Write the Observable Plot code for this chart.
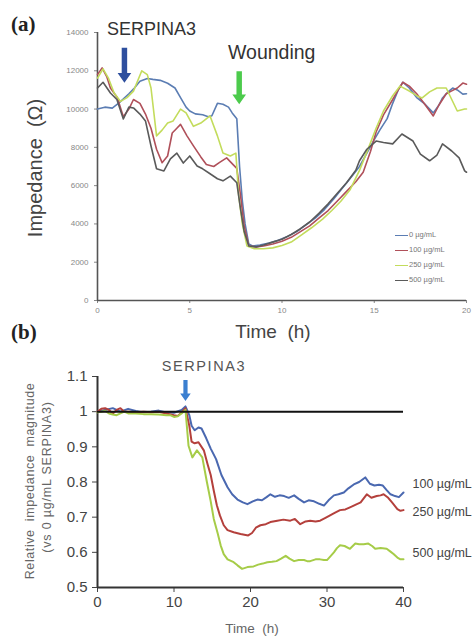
<!DOCTYPE html>
<html>
<head>
<meta charset="utf-8">
<script src="https://cdn.jsdelivr.net/npm/d3@7"></script>
<script src="https://cdn.jsdelivr.net/npm/@observablehq/plot@0.6"></script>
<style>
  html, body { margin: 0; padding: 0; background: #fff; }
  #wrap { position: relative; width: 476px; height: 636px; overflow: hidden; background: #fff; font-family: "Liberation Sans", Arial, sans-serif; }
  #wrap svg { position: absolute; left: 0; }
  .lbl { position: absolute; white-space: nowrap; line-height: 1; }
  .panel { font-family: "Liberation Serif", "DejaVu Serif", serif; font-weight: bold; font-size: 21px; color: #222; }
  .rot { transform: translate(-50%, -50%) rotate(-90deg); }
  .leg { position: absolute; font-size: 7.5px; color: #777; line-height: 1; }
  .leg span.sw { display: inline-block; width: 13px; height: 0; border-top: 1.5px solid; vertical-align: middle; margin-right: 1px; }
</style>
</head>
<body>
<div id="wrap"></div>
<script>
// ---------- Panel (a) data: impedance (Ω) vs time (h) ----------
const seriesNamesA = ["0 µg/mL", "100 µg/mL", "250 µg/mL", "500 µg/mL"];
const colorsA = ["#5b7db3", "#b0505a", "#c3dc5c", "#5a5a5a"];
const imp0 = [[0,10000],[0.4,10100],[0.8,10050],[1.2,10350],[1.7,10800],[2.0,11100],[2.3,11450],[2.7,11600],[3.0,11550],[3.4,11500],[3.8,11350],[4.2,11100],[4.5,10600],[4.8,10100],[5.0,9900],[5.3,9750],[5.7,9700],[6.0,9600],[6.2,9650],[6.5,10300],[6.8,10250],[7.1,10100],[7.3,9800],[7.55,9500],[7.7,7000],[7.85,5200],[8.0,4000],[8.2,2950],[8.4,2850],[8.8,2900],[9.3,3000],[9.8,3150],[10.3,3350],[10.8,3600],[11.3,3950],[11.8,4300],[12.3,4750],[12.8,5300],[13.3,5900],[13.8,6500],[14.2,7000],[14.6,7700],[15.0,8400],[15.3,8900],[15.7,9500],[16.0,10300],[16.3,11000],[16.55,11400],[16.9,11100],[17.3,10600],[17.7,10300],[18.2,9800],[18.5,10200],[18.7,10580],[19.0,10900],[19.25,11100],[19.5,11000],[19.8,10780],[20,10800]];
const imp100 = [[0,11800],[0.25,12150],[0.5,11700],[0.7,11100],[1.07,10600],[1.4,9600],[1.7,10000],[1.95,10500],[2.3,10300],[2.6,9740],[2.9,9000],[3.2,7900],[3.5,7200],[3.8,7550],[4.05,8750],[4.3,9000],[4.5,9200],[4.85,8600],[5.2,8080],[5.6,7500],[5.9,7100],[6.3,7000],[6.6,7200],[7.0,7450],[7.35,7100],[7.55,6900],[7.75,5500],[7.95,3900],[8.2,2850],[8.6,2800],[9.0,2850],[9.5,2950],[10.0,3100],[10.5,3300],[11.0,3600],[11.5,3900],[12.0,4300],[12.5,4700],[13.0,5200],[13.5,5700],[14.0,6200],[14.4,6700],[14.8,7800],[15.1,8800],[15.5,9700],[16.0,10500],[16.3,11000],[16.55,11400],[16.9,11200],[17.3,10800],[17.7,10300],[18.2,9640],[18.5,10200],[18.9,10800],[19.2,10950],[19.5,11100],[19.8,11360],[20,11300]];
const imp250 = [[0,11620],[0.3,12100],[0.6,11600],[0.9,10840],[1.25,10400],[1.6,10600],[1.95,10940],[2.4,12000],[2.7,11800],[2.9,11100],[3.2,8600],[3.5,8900],[3.8,9270],[4.1,9380],[4.5,10000],[4.8,9800],[5.2,9100],[5.6,9270],[6.1,9640],[6.5,8600],[6.8,7700],[7.2,7550],[7.5,7700],[7.65,5500],[7.85,4000],[8.1,2850],[8.5,2700],[9.0,2700],[9.5,2750],[10.0,2870],[10.5,3050],[11.1,3450],[11.6,3800],[12.2,4250],[12.7,4700],[13.2,5200],[13.7,5800],[14.2,6800],[14.7,8000],[15.1,9000],[15.5,9900],[16.0,10700],[16.4,11200],[16.9,10940],[17.3,10700],[17.6,10580],[18.0,10900],[18.4,11100],[18.9,11100],[19.2,10500],[19.5,9900],[19.9,10000],[20,10000]];
const imp500 = [[0,11100],[0.3,11400],[0.7,10840],[1.05,10500],[1.4,9480],[1.7,10100],[1.95,10060],[2.3,9740],[2.6,9380],[2.9,8070],[3.2,6880],[3.6,6770],[3.95,7400],[4.3,7700],[4.65,7180],[5.0,7550],[5.4,7030],[5.7,6880],[6.1,6620],[6.5,6360],[6.8,6250],[7.2,6500],[7.55,6150],[7.75,4800],[7.95,3600],[8.2,2850],[8.6,2800],[9.0,2900],[9.5,3050],[10.0,3200],[10.5,3450],[11.0,3750],[11.5,4100],[12.0,4550],[12.5,5050],[13.0,5600],[13.5,6150],[14.0,6800],[14.2,7300],[14.6,7900],[15.1,8330],[15.5,8250],[16.0,8180],[16.5,8700],[17.1,8330],[17.5,7650],[18.0,7300],[18.4,7600],[18.7,8180],[19.2,7810],[19.6,7450],[19.9,6770],[20,6700]];
const xTicksA = [0, 5, 10, 15, 20];
const yTicksA = [0, 2000, 4000, 6000, 8000, 10000, 12000, 14000];
// annotation arrows (data coords: time, impedance at arrow tail)
const arrowSerpA = [{t: 1.46, v: 13200}];
const arrowWoundA = [{t: 7.68, v: 11980}];

// ---------- Panel (b) data: relative impedance magnitude ----------
const seriesNamesB = ["100 µg/mL", "250 µg/mL", "500 µg/mL"];
const colorsB = ["#4a68b0", "#b4403c", "#a6cc48"];
const rel100 = [[0,1.0],[1,1.005],[2,1.01],[3,1.0],[4,1.008],[5,1.002],[6,0.998],[7,1.0],[8,1.003],[9,0.998],[10,0.997],[11,1.005],[11.5,1.015],[12,0.99],[12.3,0.96],[12.7,0.947],[13.2,0.955],[13.6,0.952],[14.2,0.925],[14.8,0.895],[15.5,0.865],[16.2,0.82],[17,0.785],[17.6,0.765],[18.3,0.75],[19,0.742],[19.6,0.737],[20.3,0.745],[20.9,0.75],[21.5,0.748],[22.1,0.757],[22.6,0.765],[23.2,0.758],[23.8,0.762],[24.4,0.76],[25,0.755],[25.7,0.762],[26.3,0.752],[27,0.742],[27.6,0.748],[28.3,0.745],[29,0.738],[29.6,0.733],[30.2,0.748],[30.9,0.762],[31.5,0.765],[32.2,0.77],[32.8,0.782],[33.5,0.793],[34.2,0.8],[35,0.813],[35.6,0.795],[36.2,0.79],[36.8,0.792],[37.3,0.79],[37.8,0.777],[38.3,0.765],[38.9,0.76],[39.4,0.757],[40,0.77]];
const rel250 = [[0,1.0],[0.5,1.008],[1,1.01],[1.5,1.005],[2,0.995],[2.5,1.005],[3,1.01],[3.5,1.0],[4,1.0],[5,0.998],[6,1.0],[7,0.998],[8,1.0],[9,0.995],[10,0.99],[10.5,0.988],[11,0.998],[11.5,1.01],[12,0.96],[12.3,0.915],[12.7,0.91],[13.2,0.913],[13.9,0.89],[14.4,0.85],[14.8,0.82],[15.2,0.775],[15.6,0.734],[16,0.705],[16.5,0.677],[17,0.663],[17.8,0.657],[18.7,0.652],[19.7,0.648],[20.2,0.655],[20.7,0.67],[21.3,0.677],[22,0.68],[22.6,0.686],[23.5,0.69],[24.3,0.693],[25.2,0.69],[25.8,0.695],[26.5,0.68],[27.2,0.688],[27.8,0.69],[28.5,0.688],[29.1,0.69],[29.8,0.698],[30.4,0.705],[31,0.712],[31.7,0.72],[32.4,0.722],[33,0.728],[33.7,0.735],[34.4,0.742],[35.2,0.765],[35.8,0.755],[36.5,0.76],[37,0.762],[37.4,0.765],[38,0.755],[38.5,0.742],[39.2,0.723],[39.6,0.718],[40,0.72]];
const rel500 = [[0,0.998],[0.5,1.0],[1,1.002],[1.5,0.995],[2,0.992],[2.5,0.99],[3,0.995],[3.5,1.0],[4,0.995],[5,0.995],[6,0.993],[7,0.993],[8,0.992],[9,0.99],[9.5,0.99],[10,0.985],[10.5,0.987],[11,0.995],[11.5,1.005],[11.9,0.903],[12.4,0.87],[13,0.89],[13.7,0.87],[14.3,0.8],[14.8,0.745],[15.2,0.695],[15.7,0.655],[16.1,0.62],[16.5,0.595],[17,0.58],[17.8,0.572],[18.3,0.563],[18.9,0.553],[19.6,0.558],[20.4,0.56],[21,0.565],[21.6,0.568],[22.2,0.572],[22.8,0.573],[23.4,0.575],[24,0.582],[24.6,0.59],[25.1,0.582],[25.7,0.575],[26.3,0.578],[27,0.578],[27.4,0.575],[27.8,0.575],[28.5,0.58],[29.1,0.58],[29.6,0.578],[30,0.578],[30.5,0.59],[30.9,0.6],[31.3,0.612],[31.7,0.62],[32.3,0.618],[33,0.61],[33.7,0.625],[34.2,0.623],[34.8,0.623],[35.4,0.625],[35.9,0.618],[36.3,0.61],[37,0.612],[37.8,0.61],[38.3,0.602],[38.7,0.595],[39.2,0.585],[39.6,0.58],[40,0.58]];
const xTicksB = [0, 10, 20, 30, 40];
const yTicksB = [0.5, 0.6, 0.7, 0.8, 0.9, 1.0, 1.1];
const labelYB = [0.793, 0.714, 0.598]; // right-hand series labels at t = 40
const arrowSerpB = [{t: 11.5, v: 1.09}];

// ---------- helpers ----------
const toRows = (pairs, s) => pairs.map(([t, v]) => ({t, v, s}));
const blockArrow = {
  draw(ctx, l, r) {
    const sw = r * 0.42, hw = r * 1.05, hl = Math.min(l * 0.42, r * 1.5);
    ctx.moveTo(-sw, 0);
    ctx.lineTo(-sw, -(l - hl));
    ctx.lineTo(-hw, -(l - hl));
    ctx.lineTo(0, -l);
    ctx.lineTo(hw, -(l - hl));
    ctx.lineTo(sw, -(l - hl));
    ctx.lineTo(sw, 0);
    ctx.closePath();
  }
};

const wrap = document.getElementById("wrap");

// ---------- Panel (a) ----------
const dataA = [
  ...toRows(imp0, seriesNamesA[0]),
  ...toRows(imp100, seriesNamesA[1]),
  ...toRows(imp250, seriesNamesA[2]),
  ...toRows(imp500, seriesNamesA[3])
];
const plotA = Plot.plot({
  width: 476, height: 345,
  marginLeft: 97, marginRight: 10, marginTop: 32, marginBottom: 45,
  style: {fontFamily: "Liberation Sans, Arial, sans-serif", fontSize: "8px", color: "#888", background: "transparent"},
  x: {domain: [0, 20], ticks: xTicksA, tickSize: 3, tickPadding: 4, label: null},
  y: {domain: [0, 14000], ticks: yTicksA, tickSize: 3, tickPadding: 6, label: null, tickFormat: d3.format("d")},
  color: {domain: seriesNamesA, range: colorsA},
  marks: [
    Plot.ruleX([0], {stroke: "#555", strokeWidth: 1.6}),
    Plot.ruleY([0], {stroke: "#555", strokeWidth: 1.6}),
    Plot.lineY(dataA, {x: "t", y: "v", z: "s", stroke: "s", strokeWidth: 1.6, curve: "linear"}),
    Plot.vector(arrowSerpA, {x: "t", y: "v", length: 35, rotate: 180, anchor: "start", shape: blockArrow, r: 6.5, fill: "#2e4f9e", stroke: "none"}),
    Plot.vector(arrowWoundA, {x: "t", y: "v", length: 33, rotate: 180, anchor: "start", shape: blockArrow, r: 6.5, fill: "#4ccb4c", stroke: "none"})
  ]
});
plotA.style.top = "0px";
wrap.appendChild(plotA);

// ---------- Panel (b) ----------
const dataB = [
  ...toRows(rel100, seriesNamesB[0]),
  ...toRows(rel250, seriesNamesB[1]),
  ...toRows(rel500, seriesNamesB[2])
];
const labelRowsB = seriesNamesB.map((s, i) => ({s, t: 40, v: labelYB[i]}));
const plotB = Plot.plot({
  width: 476, height: 291,
  marginLeft: 97, marginRight: 73, marginTop: 31, marginBottom: 49,
  style: {fontFamily: "Liberation Sans, Arial, sans-serif", fontSize: "15px", color: "#444", background: "transparent", overflow: "visible"},
  x: {domain: [0, 40], ticks: xTicksB, tickSize: 5, tickPadding: 4, label: null},
  y: {domain: [0.5, 1.1], ticks: yTicksB, tickSize: 5, tickPadding: 5, label: null, tickFormat: d => d === 1 ? "1" : d3.format(".1f")(d)},
  color: {domain: seriesNamesB, range: colorsB},
  marks: [
    Plot.ruleX([0], {stroke: "#333", strokeWidth: 2}),
    Plot.ruleY([0.5], {stroke: "#333", strokeWidth: 2}),
    Plot.lineY(dataB, {x: "t", y: "v", z: "s", stroke: "s", strokeWidth: 2}),
    Plot.ruleY([1], {stroke: "#111", strokeWidth: 2}),
    Plot.text(labelRowsB, {x: "t", y: "v", text: "s", dx: 9, textAnchor: "start", fill: "#444", fontSize: 12.5}),
    Plot.vector(arrowSerpB, {x: "t", y: "v", length: 21, rotate: 180, anchor: "start", shape: blockArrow, r: 5, fill: "#3b7fd0", stroke: "none"})
  ]
});
plotB.style.top = "345px";
wrap.appendChild(plotB);

// ---------- text overlays ----------
function addLabel(html, css, cls = "lbl") {
  const d = document.createElement("div");
  d.className = cls;
  d.innerHTML = html;
  Object.assign(d.style, css);
  wrap.appendChild(d);
  return d;
}
addLabel("(a)", {left: "11px", top: "14px"}, "lbl panel");
addLabel("(b)", {left: "11px", top: "322px"}, "lbl panel");
addLabel("SERPINA3", {left: "107px", top: "20px", fontSize: "18px", color: "#333"});
addLabel("Wounding", {left: "228px", top: "43px", fontSize: "19.5px", color: "#333"});
addLabel("Impedance&nbsp; (Ω)", {left: "35px", top: "168px", fontSize: "20px", color: "#444"}, "lbl rot");
addLabel("Time&nbsp; (h)", {left: "273px", top: "331px", fontSize: "19px", color: "#444", transform: "translate(-50%, -50%)"});
addLabel("SERPINA3", {left: "204px", top: "366px", fontSize: "14.5px", color: "#555", letterSpacing: "1.6px", transform: "translate(-50%, -50%)"});
addLabel("Relative&nbsp; impedance&nbsp; magnitude", {left: "30px", top: "481px", fontSize: "12.5px", color: "#666", letterSpacing: "0.6px"}, "lbl rot");
addLabel("(vs 0 µg/mL SERPINA3)", {left: "47px", top: "477px", fontSize: "12.5px", color: "#666", letterSpacing: "0.8px"}, "lbl rot");
addLabel("Time&nbsp; (h)", {left: "252px", top: "629px", fontSize: "13.5px", color: "#666", transform: "translate(-50%, -50%)"});

// legend of panel (a)
const legTops = [231, 246, 261, 276];
seriesNamesA.forEach((name, i) => {
  const d = document.createElement("div");
  d.className = "leg";
  d.style.left = "395px";
  d.style.top = legTops[i] + "px";
  d.innerHTML = `<span class="sw" style="border-color:${colorsA[i]}"></span>${name}`;
  wrap.appendChild(d);
});
</script>
</body>
</html>
